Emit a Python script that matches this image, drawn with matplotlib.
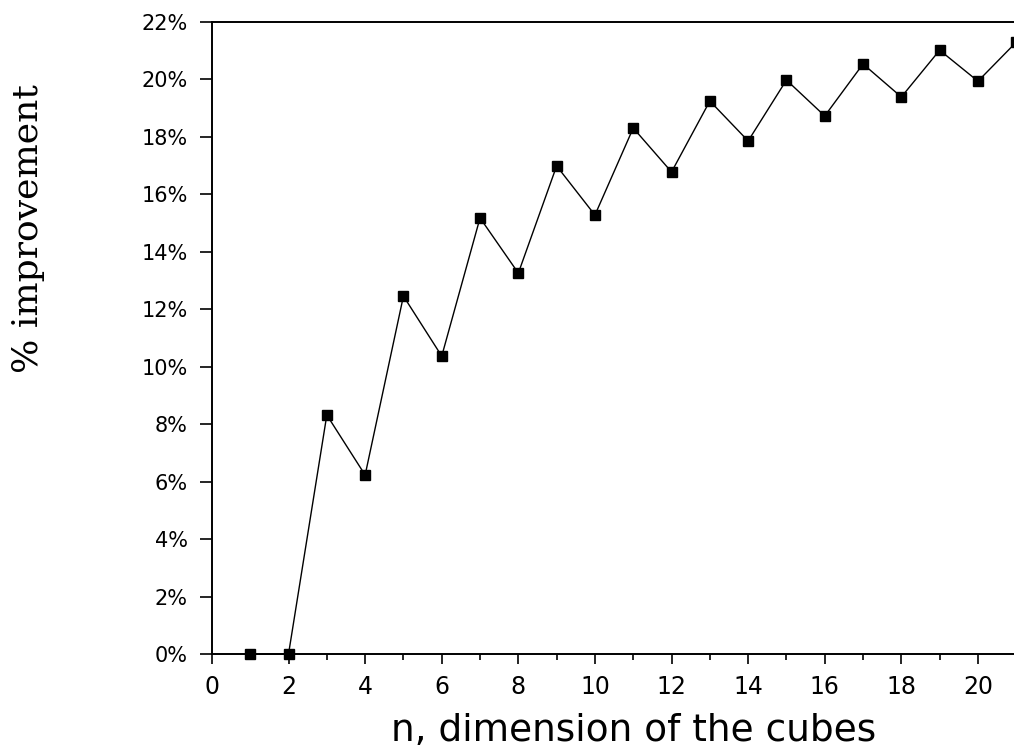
import matplotlib
matplotlib.use("Agg")
import matplotlib.pyplot as plt
from matplotlib.ticker import FixedLocator, FuncFormatter

# improvement per cube dimension n
n = [1, 2, 3, 4, 5, 6, 7, 8, 9, 10, 11, 12, 13, 14, 15, 16, 17, 18, 19, 20, 21]
improvement = [0.0, 0.0, 8.32, 6.23, 12.46, 10.37, 15.18, 13.26, 16.99, 15.28,
               18.31, 16.78, 19.25, 17.86, 19.98, 18.73, 20.54, 19.39, 21.02,
               19.94, 21.30]
x_ticks = [0, 2, 4, 6, 8, 10, 12, 14, 16, 18, 20]
x_minor = [1, 3, 5, 7, 9, 11, 13, 15, 17, 19, 21]
y_ticks = [0, 2, 4, 6, 8, 10, 12, 14, 16, 18, 20, 22]

tick_font = ['Liberation Sans Narrow', 'DejaVu Sans']

fig = plt.figure(figsize=(10.14, 7.49), dpi=100)
ax = fig.add_axes([0.209, 0.1268, 0.831, 0.8438])

ax.plot(n, improvement, color='black', linewidth=1.0,
        marker='s', markersize=7, markerfacecolor='black',
        markeredgecolor='black', clip_on=False)

ax.set_xlim(0, 22)
ax.set_ylim(0, 22)
ax.xaxis.set_major_locator(FixedLocator(x_ticks))
ax.xaxis.set_minor_locator(FixedLocator(x_minor))
ax.yaxis.set_major_locator(FixedLocator(y_ticks))
ax.yaxis.set_major_formatter(FuncFormatter(lambda v, p: '%d%%' % v))

ax.tick_params(axis='y', which='major', direction='out', length=9,
               width=1.2, labelsize=15, pad=8.5)
ax.tick_params(axis='x', which='major', direction='out', length=7,
               width=1.2, labelsize=17, pad=8)
ax.tick_params(axis='x', which='minor', direction='out', length=4, width=1.2)
for lbl in ax.get_xticklabels() + ax.get_yticklabels():
    lbl.set_family(tick_font)

for s in ax.spines.values():
    s.set_linewidth(1.4)

ax.set_xlabel('n, dimension of the cubes', fontsize=27, labelpad=10)
fig.text(0.028, 0.695, '% improvement', rotation=90, fontsize=26,
         family='DejaVu Serif', ha='center', va='center')

fig.savefig('out.png', dpi=100)
